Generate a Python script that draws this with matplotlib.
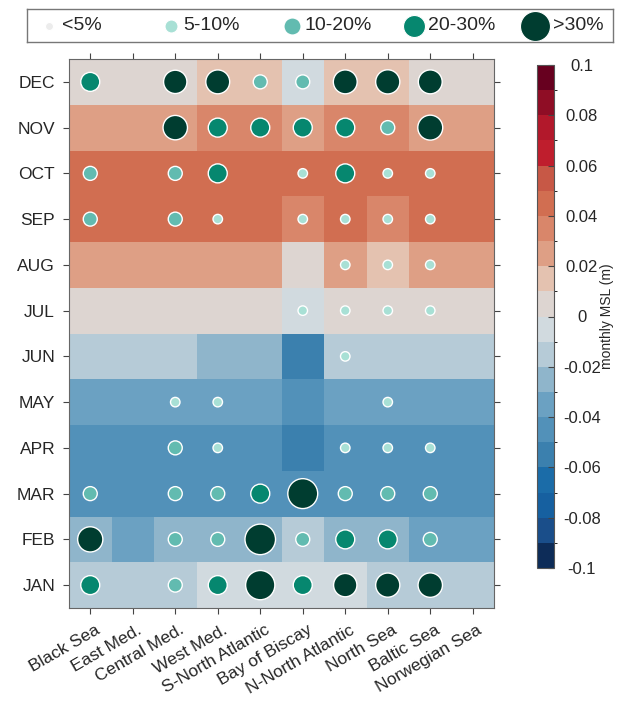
import numpy as np
import matplotlib.pyplot as plt
from matplotlib.colors import ListedColormap, BoundaryNorm
from matplotlib.transforms import ScaledTranslation

plt.rcParams['font.family'] = ['Liberation Sans', 'DejaVu Sans']

### DATA
months = ['JAN', 'FEB', 'MAR', 'APR', 'MAY', 'JUN', 'JUL', 'AUG', 'SEP', 'OCT', 'NOV', 'DEC']
regions = ['Black Sea', 'East Med.', 'Central Med.', 'West Med.', 'S-North Atlantic',
           'Bay of Biscay', 'N-North Atlantic', 'North Sea', 'Baltic Sea', 'Norwegian Sea']

# monthly MSL anomaly (m), rows JAN..DEC, columns as regions
msl_jan = [-0.014, -0.013, -0.014, -0.006, -0.005, -0.004, -0.006, -0.015, -0.016, -0.013]
msl_feb = [-0.026, -0.034, -0.024, -0.025, -0.027, -0.016, -0.023, -0.026, -0.033, -0.035]
msl_mar = [-0.044, -0.046, -0.045, -0.043, -0.045, -0.047, -0.044, -0.046, -0.045, -0.044]
msl_apr = [-0.045, -0.044, -0.046, -0.045, -0.043, -0.055, -0.046, -0.044, -0.045, -0.046]
msl_may = [-0.035, -0.036, -0.034, -0.035, -0.033, -0.045, -0.036, -0.034, -0.035, -0.036]
msl_jun = [-0.015, -0.014, -0.016, -0.025, -0.024, -0.055, -0.016, -0.015, -0.014, -0.015]
msl_jul = [0.005, 0.004, 0.006, 0.005, 0.004, -0.004, 0.005, 0.006, 0.005, 0.004]
msl_aug = [0.025, 0.026, 0.024, 0.025, 0.026, 0.005, 0.024, 0.015, 0.025, 0.026]
msl_sep = [0.045, 0.046, 0.044, 0.045, 0.046, 0.035, 0.044, 0.036, 0.045, 0.046]
msl_oct = [0.045, 0.046, 0.044, 0.046, 0.045, 0.044, 0.046, 0.045, 0.044, 0.045]
msl_nov = [0.025, 0.024, 0.026, 0.035, 0.034, 0.025, 0.036, 0.035, 0.024, 0.025]
msl_dec = [0.006, 0.005, 0.004, 0.015, 0.014, -0.005, 0.016, 0.015, 0.005, 0.006]

# occurrence percentage for the circles, rows JAN..DEC
pct_jan = [25, 2, 15, 25, 66, 25, 42, 45, 46, 1]
pct_feb = [49, 3, 15, 15, 72, 15, 25, 25, 15, 2]
pct_mar = [15, 3, 15, 15, 25, 69, 15, 15, 15, 2]
pct_apr = [3, 2, 15, 8, 3, 3, 8, 8, 8, 1]
pct_may = [2, 2, 8, 8, 3, 2, 3, 8, 2, 1]
pct_jun = [2, 1, 2, 3, 2, 3, 8, 3, 2, 1]
pct_jul = [2, 1, 2, 2, 3, 8, 8, 8, 8, 2]
pct_aug = [3, 2, 3, 2, 4, 3, 8, 8, 8, 2]
pct_sep = [15, 3, 15, 8, 4, 8, 8, 8, 8, 2]
pct_oct = [15, 3, 15, 25, 4, 8, 25, 8, 8, 2]
pct_nov = [4, 3, 46, 25, 25, 25, 25, 15, 48, 3]
pct_dec = [25, 4, 42, 44, 15, 15, 44, 45, 44, 3]

msl = np.array([msl_jan, msl_feb, msl_mar, msl_apr, msl_may, msl_jun,
                msl_jul, msl_aug, msl_sep, msl_oct, msl_nov, msl_dec])
pct = np.array([pct_jan, pct_feb, pct_mar, pct_apr, pct_may, pct_jun,
                pct_jul, pct_aug, pct_sep, pct_oct, pct_nov, pct_dec])

bin_labels = ['<5%', '5-10%', '10-20%', '20-30%', '>30%']
bin_edges = [5, 10, 20, 30]
bin_colors = ['#ececec', '#a8e0d5', '#62bbb0', '#06876f', '#003d30']
bin_diam = [4, 9.5, 14, 19, None]      # marker diameters in the map (px)
legend_diam = [8, 13, 17, 22, 30]      # marker diameters in the legend (px)

cbar_ticks = [-0.1, -0.08, -0.06, -0.04, -0.02, 0, 0.02, 0.04, 0.06, 0.08, 0.1]
cbar_ticklabels = ['-0.1', '-0.08', '-0.06', '-0.04', '-0.02', '0', '0.02', '0.04', '0.06', '0.08', '0.1']

### COLORMAP (20 discrete levels, -0.1 .. 0.1)
cmap_colors = ['#0d2c58', '#1a4e8a', '#1660a0', '#1b6ca8', '#3b80ae', '#5291b9', '#6ba1c2',
               '#8fb5cb', '#b6cbd7', '#d1dadf', '#ddd5d1', '#e4c2b0', '#de9f85', '#d9866a',
               '#d16e51', '#c75846', '#bf1e2d', '#b2182b', '#8f0d25', '#67001f']
cmap = ListedColormap(cmap_colors)
norm = BoundaryNorm(np.linspace(-0.1, 0.1, 21), cmap.N)

### FIGURE
W, H = 627, 713
fig = plt.figure(figsize=(W / 100, H / 100), dpi=100)
ax = fig.add_axes([69 / W, 1 - 608 / H, 425 / W, 549 / H])
cax = fig.add_axes([537 / W, 1 - 568 / H, 17 / W, 503 / H])
lax = fig.add_axes([27 / W, 1 - 42 / H, 586 / W, 33 / H])

nx, ny = len(regions), len(months)
mesh = ax.pcolormesh(np.arange(nx + 1) - 0.5, np.arange(ny + 1) - 0.5, msl, cmap=cmap, norm=norm)

def diam_px(p):
    idx = np.searchsorted(bin_edges, p, side='right')
    if idx == 4:
        return 3.6 * np.sqrt(p)
    return bin_diam[idx]

xs, ys, sz, cs = [], [], [], []
for j in range(ny):
    for i in range(nx):
        p = pct[j, i]
        if p < 5:
            continue
        idx = np.searchsorted(bin_edges, p, side='right')
        xs.append(i)
        ys.append(j)
        sz.append((diam_px(p) * 0.72) ** 2)
        cs.append(bin_colors[idx])
ax.scatter(xs, ys, s=sz, c=cs, edgecolors='white', linewidths=1.0, zorder=3)

ax.set_xlim(-0.5, nx - 0.5)
ax.set_ylim(-0.5, ny - 0.5)
ax.set_xticks(range(nx))
ax.set_yticks(range(ny))
ax.set_yticklabels(months)
ax.set_xticklabels(regions, rotation=30, ha='right', va='center', rotation_mode='anchor')
ax.tick_params(axis='both', direction='out', length=4, width=0.8, color='#444444',
               labelsize=12.5, labelcolor='#262626', top=True, right=True)
ax.tick_params(axis='x', pad=11)
ax.tick_params(axis='y', pad=6)
shift = ScaledTranslation(8 / 100, 0, fig.dpi_scale_trans)
for lab in ax.get_xticklabels():
    lab.set_transform(lab.get_transform() + shift)
for sp in ax.spines.values():
    sp.set_color('#666666')
    sp.set_linewidth(0.8)

### COLORBAR
cbar = fig.colorbar(mesh, cax=cax, ticks=cbar_ticks)
cbar.set_ticklabels(cbar_ticklabels)
cax.tick_params(direction='in', length=4, width=0.8, color='#444444', labelsize=12,
                labelcolor='#262626', pad=20)
for lab in cax.get_yticklabels():
    lab.set_horizontalalignment('center')
cbar.outline.set_edgecolor('#555555')
cbar.outline.set_linewidth(0.8)
cbar.set_label('monthly MSL (m)', fontsize=10, color='#262626')
cax.yaxis.set_label_coords(3.72, 0.5)

### LEGEND (equal-width columns, drawn in its own axes in pixel units)
lax.set_xlim(0, 586)
lax.set_ylim(0, 33)
lax.set_xticks([])
lax.set_yticks([])
for sp in lax.spines.values():
    sp.set_color('#777777')
    sp.set_linewidth(1.0)
for k, (lab, c, d) in enumerate(zip(bin_labels, bin_colors, legend_diam)):
    xc = 22 + 121.5 * k
    lax.scatter([xc], [16.5], s=(d * 0.72) ** 2, c=c, edgecolors='white', linewidths=0.8)
    lax.text(xc + max(13, d / 2 + 3.5), 16.5, lab, fontsize=14, color='#262626',
             ha='left', va='center')

fig.savefig('out.png', dpi=100)
